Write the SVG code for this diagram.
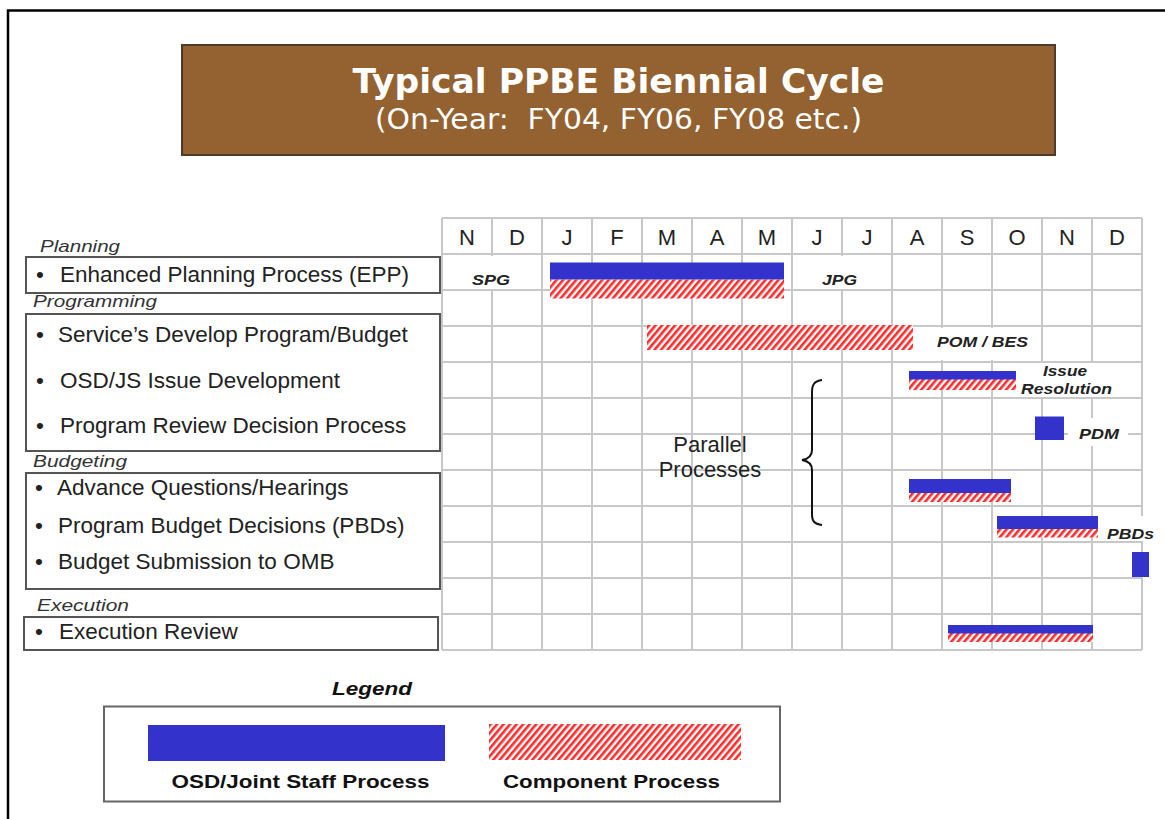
<svg xmlns="http://www.w3.org/2000/svg" width="1165" height="819" viewBox="0 0 1165 819">
<style>
.lbl{font-family:"Liberation Sans",Arial,sans-serif;font-size:22.5px;fill:#222}
.sec{font-family:"Liberation Sans",Arial,sans-serif;font-size:17px;font-style:italic;fill:#333}
.mon{font-family:"Liberation Sans",Arial,sans-serif;font-size:22px;fill:#222;text-anchor:middle}
.tag{font-family:"Liberation Sans",Arial,sans-serif;font-size:15px;font-style:italic;font-weight:bold;fill:#222}
.box{fill:#fff;stroke:#555;stroke-width:2}
.grid line{stroke:#c8c8c8;stroke-width:2}
.blue{fill:#3333cc}
.hatch{fill:url(#hatch)}
.wb{fill:#fff}
</style>
<defs>
<pattern id="hatch" patternUnits="userSpaceOnUse" width="5" height="20" patternTransform="rotate(40)">
<rect width="5" height="20" fill="#fff"/>
<rect width="2.6" height="20" fill="#ff2b2b"/>
</pattern>
</defs>
<rect width="1165" height="819" fill="#fff"/>
<path d="M8,819 V10.5 H1165" fill="none" stroke="#000" stroke-width="2.5"/>

<g id="title">
<rect x="182" y="45" width="873" height="110" fill="#946131" stroke="#4d3b2a" stroke-width="2"/>
<text x="618.5" y="93" text-anchor="middle" font-family="'DejaVu Sans',Verdana,sans-serif" font-weight="bold" font-size="34" fill="#fff" textLength="532" lengthAdjust="spacingAndGlyphs">Typical PPBE Biennial Cycle</text>
<text x="618.5" y="129" text-anchor="middle" font-family="'DejaVu Sans',Verdana,sans-serif" font-size="28" fill="#fff" textLength="487" lengthAdjust="spacingAndGlyphs" xml:space="preserve">(On-Year:  FY04, FY06, FY08 etc.)</text>
</g>

<g id="grid" class="grid">
<line x1="442" y1="218" x2="442" y2="650"/><line x1="492" y1="218" x2="492" y2="650"/><line x1="542" y1="218" x2="542" y2="650"/><line x1="592" y1="218" x2="592" y2="650"/><line x1="642" y1="218" x2="642" y2="650"/><line x1="692" y1="218" x2="692" y2="650"/><line x1="742" y1="218" x2="742" y2="650"/><line x1="792" y1="218" x2="792" y2="650"/><line x1="842" y1="218" x2="842" y2="650"/><line x1="892" y1="218" x2="892" y2="650"/><line x1="942" y1="218" x2="942" y2="650"/><line x1="992" y1="218" x2="992" y2="650"/><line x1="1042" y1="218" x2="1042" y2="650"/><line x1="1092" y1="218" x2="1092" y2="650"/><line x1="1142" y1="218" x2="1142" y2="650"/>
<line x1="442" y1="218" x2="1142" y2="218"/><line x1="442" y1="254" x2="1142" y2="254"/><line x1="442" y1="290" x2="1142" y2="290"/><line x1="442" y1="326" x2="1142" y2="326"/><line x1="442" y1="362" x2="1142" y2="362"/><line x1="442" y1="398" x2="1142" y2="398"/><line x1="442" y1="434" x2="1142" y2="434"/><line x1="442" y1="470" x2="1142" y2="470"/><line x1="442" y1="506" x2="1142" y2="506"/><line x1="442" y1="542" x2="1142" y2="542"/><line x1="442" y1="578" x2="1142" y2="578"/><line x1="442" y1="614" x2="1142" y2="614"/><line x1="442" y1="650" x2="1142" y2="650"/>
</g>

<g id="months">
<text class="mon" x="467" y="245">N</text><text class="mon" x="517" y="245">D</text><text class="mon" x="567" y="245">J</text><text class="mon" x="617" y="245">F</text><text class="mon" x="667" y="245">M</text><text class="mon" x="717" y="245">A</text><text class="mon" x="767" y="245">M</text><text class="mon" x="817" y="245">J</text><text class="mon" x="867" y="245">J</text><text class="mon" x="917" y="245">A</text><text class="mon" x="967" y="245">S</text><text class="mon" x="1017" y="245">O</text><text class="mon" x="1067" y="245">N</text><text class="mon" x="1117" y="245">D</text>
</g>

<g id="planning">
<text class="sec" x="40" y="251.5" textLength="80" lengthAdjust="spacingAndGlyphs">Planning</text>
<rect class="box" x="26" y="257" width="414" height="36"/>
<text class="lbl" y="282"><tspan x="36">•</tspan><tspan x="60">Enhanced Planning Process (EPP)</tspan></text>
</g>

<g id="programming">
<text class="sec" x="33" y="307" textLength="124" lengthAdjust="spacingAndGlyphs">Programming</text>
<rect class="box" x="26" y="314" width="414" height="137"/>
<text class="lbl" y="341.5"><tspan x="36">•</tspan><tspan x="58">Service’s Develop Program/Budget</tspan></text>
<text class="lbl" y="388"><tspan x="36">•</tspan><tspan x="60">OSD/JS Issue Development</tspan></text>
<text class="lbl" y="432.5"><tspan x="36">•</tspan><tspan x="60">Program Review Decision Process</tspan></text>
</g>

<g id="budgeting">
<text class="sec" x="33" y="466.5" textLength="94" lengthAdjust="spacingAndGlyphs">Budgeting</text>
<rect class="box" x="26" y="473" width="414" height="116"/>
<text class="lbl" y="495"><tspan x="35">•</tspan><tspan x="57">Advance Questions/Hearings</tspan></text>
<text class="lbl" y="532.5"><tspan x="35">•</tspan><tspan x="58">Program Budget Decisions (PBDs)</tspan></text>
<text class="lbl" y="569"><tspan x="35">•</tspan><tspan x="58">Budget Submission to OMB</tspan></text>
</g>

<g id="execution">
<text class="sec" x="37" y="610.5" textLength="92" lengthAdjust="spacingAndGlyphs">Execution</text>
<rect class="box" x="24" y="617" width="414" height="33"/>
<text class="lbl" y="639"><tspan x="35">•</tspan><tspan x="59">Execution Review</tspan></text>
</g>

<g id="chart-labels">
<rect class="wb" x="444" y="256" width="96" height="33"/>
<text class="tag" x="472" y="285" textLength="38" lengthAdjust="spacingAndGlyphs">SPG</text>
<rect class="wb" x="794" y="256" width="96" height="33"/>
<text class="tag" x="822" y="285" textLength="35" lengthAdjust="spacingAndGlyphs">JPG</text>
<rect class="wb" x="914" y="328" width="126" height="32"/>
<text class="tag" x="937" y="347" textLength="91" lengthAdjust="spacingAndGlyphs">POM / BES</text>
<rect class="wb" x="1018" y="363" width="111" height="34"/>
<text class="tag" x="1043" y="375.5" textLength="44" lengthAdjust="spacingAndGlyphs">Issue</text>
<text class="tag" x="1021" y="394" textLength="91" lengthAdjust="spacingAndGlyphs">Resolution</text>
<rect class="wb" x="1068" y="418" width="60" height="28"/>
<text class="tag" x="1079" y="438.5" textLength="40" lengthAdjust="spacingAndGlyphs">PDM</text>
<rect class="wb" x="1100" y="516" width="60" height="25"/>
<text class="tag" x="1107" y="538.5" textLength="47" lengthAdjust="spacingAndGlyphs">PBDs</text>
</g>

<g id="bars">
<rect class="hatch" x="550" y="279.5" width="234" height="19"/>
<rect class="blue" x="550" y="262.5" width="234" height="17"/>
<rect class="hatch" x="647" y="325" width="266" height="25"/>
<rect class="hatch" x="909" y="379" width="107" height="11"/>
<rect class="blue" x="909" y="371" width="107" height="8.5"/>
<rect class="blue" x="1035" y="416.5" width="29" height="23.5"/>
<rect class="hatch" x="909" y="493" width="102" height="9"/>
<rect class="blue" x="909" y="479" width="102" height="14"/>
<rect class="hatch" x="997" y="529" width="101" height="8.5"/>
<rect class="blue" x="997" y="516" width="101" height="13"/>
<rect class="blue" x="1132" y="552" width="17" height="25"/>
<rect class="hatch" x="948" y="633" width="145" height="9"/>
<rect class="blue" x="948" y="625" width="145" height="8.5"/>
</g>

<g id="parallel">
<text class="mon" x="710" y="451.5">Parallel</text>
<text class="mon" x="710" y="476.5">Processes</text>
</g>

<g id="connectors">
<path d="M822,380 C814,381 812,385 812,392 L812,450 C812,456 808,459 802,460 C808,461 812,464 812,470 L812,514 C812,521 814,524 822,525" fill="none" stroke="#111" stroke-width="2"/>
</g>

<g id="legend">
<text x="332" y="695" font-family="'Liberation Sans',Arial,sans-serif" font-size="19" font-weight="bold" font-style="italic" fill="#111" textLength="80" lengthAdjust="spacingAndGlyphs">Legend</text>
<rect x="104" y="706.5" width="676" height="95" fill="#fff" stroke="#666" stroke-width="2"/>
<rect class="blue" x="148" y="725" width="297" height="36"/>
<rect class="hatch" x="489" y="724" width="252" height="36"/>
<text x="171.5" y="788" font-family="'Liberation Sans',Arial,sans-serif" font-size="19" font-weight="bold" fill="#111" textLength="258" lengthAdjust="spacingAndGlyphs">OSD/Joint Staff Process</text>
<text x="503" y="788" font-family="'Liberation Sans',Arial,sans-serif" font-size="19" font-weight="bold" fill="#111" textLength="217" lengthAdjust="spacingAndGlyphs">Component Process</text>
</g>
</svg>
